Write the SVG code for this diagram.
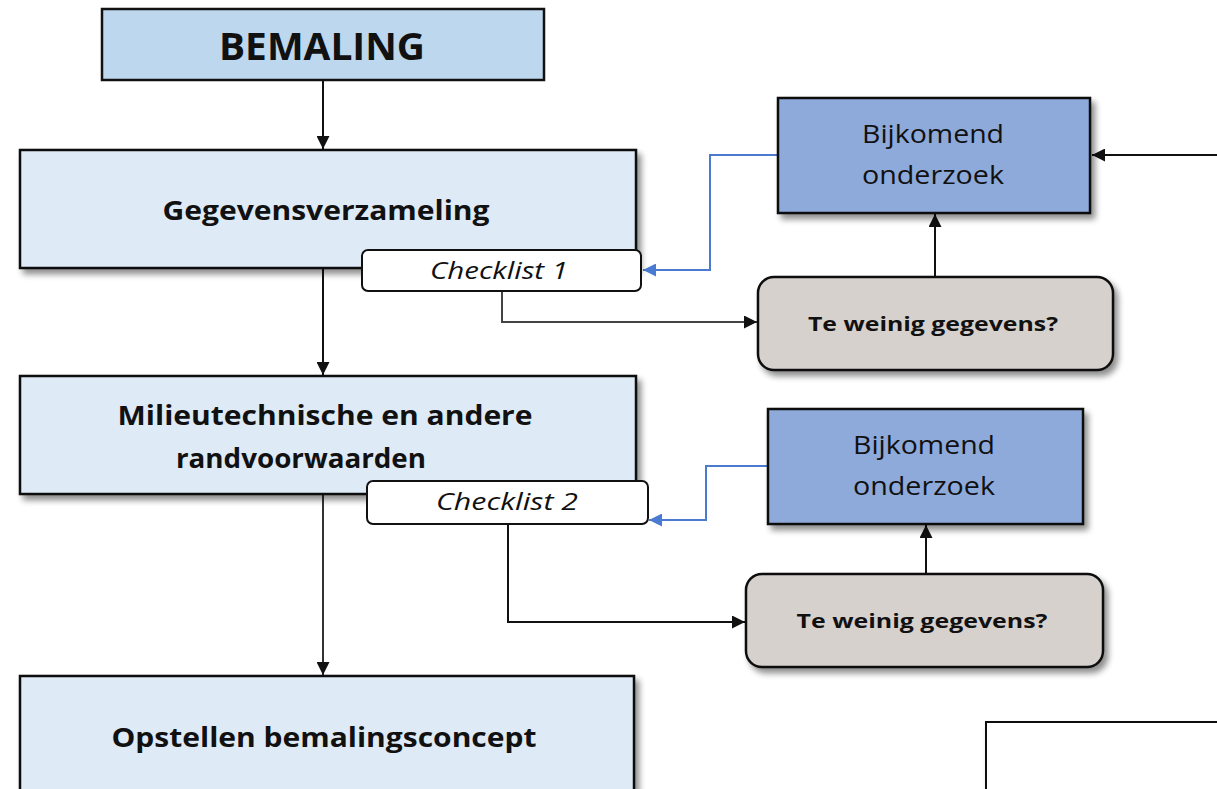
<svg xmlns="http://www.w3.org/2000/svg" width="1217" height="789" viewBox="0 0 1217 789">
<style>
  text { font-family: "Open Sans", "Noto Sans", "Liberation Sans", sans-serif; fill: #111; }
  .main { fill: #DEEAF6; stroke: #111; stroke-width: 2.5; }
  .title { fill: #BDD7EE; stroke: #111; stroke-width: 2.5; }
  .check { fill: #fff; stroke: #111; stroke-width: 2; }
  .dec { fill: #D7D1CE; stroke: #111; stroke-width: 2.5; }
  .extra { fill: #8EAADB; stroke: #111; stroke-width: 2.5; }
  .b { font-weight: bold; }
  .lnk { fill: none; stroke: #111; stroke-width: 2; }
  .blue { fill: none; stroke: #4A7BD0; stroke-width: 2; }
</style>
<defs>
  <filter id="sh" x="-10%" y="-10%" width="130%" height="140%">
    <feGaussianBlur in="SourceAlpha" stdDeviation="3"/>
    <feOffset dx="4" dy="5" result="o"/>
    <feComponentTransfer><feFuncA type="linear" slope="0.45"/></feComponentTransfer>
    <feMerge><feMergeNode/><feMergeNode in="SourceGraphic"/></feMerge>
  </filter>
  <marker id="ah" viewBox="0 0 10 10" refX="10" refY="5" markerWidth="14" markerHeight="13" markerUnits="userSpaceOnUse" orient="auto">
    <path d="M0,0 L10,5 L0,10 z" fill="#111"/>
  </marker>
  <marker id="ahb" viewBox="0 0 10 10" refX="10" refY="5" markerWidth="14" markerHeight="13" markerUnits="userSpaceOnUse" orient="auto">
    <path d="M0,0 L10,5 L0,10 z" fill="#4A7BD0"/>
  </marker>
</defs>
<g id="connectors">
  <path class="lnk" d="M323,80 V149" marker-end="url(#ah)"/>
  <path class="lnk" d="M323,268 V375" marker-end="url(#ah)"/>
  <path class="lnk" d="M323,494 V675" marker-end="url(#ah)" style="stroke:#333"/>
  <path class="lnk" d="M502,291 V322 H757" marker-end="url(#ah)" style="stroke:#444"/>
  <path class="lnk" d="M935,277 V214" marker-end="url(#ah)"/>
  <path class="lnk" d="M1217,155 H1092" marker-end="url(#ah)"/>
  <path class="blue" d="M778,155 H710 V270 H643" marker-end="url(#ahb)"/>
  <path class="lnk" d="M508,524 V622 H745" marker-end="url(#ah)"/>
  <path class="lnk" d="M926,574 V525" marker-end="url(#ah)"/>
  <path class="blue" d="M768,466 H706 V520 H649" marker-end="url(#ahb)"/>
</g>
<g id="bemaling">
  <rect class="title" x="102" y="9" width="442" height="71"/>
  <text class="b" x="322" y="60" text-anchor="middle" font-size="38" textLength="206" lengthAdjust="spacingAndGlyphs">BEMALING</text>
</g>
<g id="gegevensverzameling">
  <rect class="main" x="20" y="150" width="616" height="118" filter="url(#sh)"/>
  <text class="b" x="326" y="220" text-anchor="middle" font-size="26" textLength="327" lengthAdjust="spacingAndGlyphs">Gegevensverzameling</text>
</g>
<g id="checklist1">
  <rect class="check" x="362" y="250" width="279" height="41" rx="6"/>
  <text x="499" y="279" text-anchor="middle" font-size="23" font-style="italic" textLength="138" lengthAdjust="spacingAndGlyphs">Checklist 1</text>
</g>
<g id="teweinig1">
  <rect class="dec" x="758" y="277" width="355" height="93" rx="16" filter="url(#sh)"/>
  <text class="b" x="933" y="331" text-anchor="middle" font-size="20" textLength="250" lengthAdjust="spacingAndGlyphs">Te weinig gegevens?</text>
</g>
<g id="bijkomend1">
  <rect class="extra" x="778" y="98" width="312" height="115" filter="url(#sh)"/>
  <text x="933" y="143" text-anchor="middle" font-size="26" textLength="142" lengthAdjust="spacingAndGlyphs">Bijkomend</text>
  <text x="933" y="184" text-anchor="middle" font-size="26" textLength="142" lengthAdjust="spacingAndGlyphs">onderzoek</text>
</g>
<g id="milieutechnische">
  <rect class="main" x="20" y="376" width="616" height="118" filter="url(#sh)"/>
  <text class="b" x="325" y="425" text-anchor="middle" font-size="26" textLength="415" lengthAdjust="spacingAndGlyphs">Milieutechnische en andere</text>
  <text class="b" x="301" y="468" text-anchor="middle" font-size="26" textLength="250" lengthAdjust="spacingAndGlyphs">randvoorwaarden</text>
</g>
<g id="checklist2">
  <rect class="check" x="367" y="481" width="281" height="43" rx="6"/>
  <text x="507" y="510" text-anchor="middle" font-size="23" font-style="italic" textLength="142" lengthAdjust="spacingAndGlyphs">Checklist 2</text>
</g>
<g id="teweinig2">
  <rect class="dec" x="746" y="574" width="357" height="93" rx="16" filter="url(#sh)"/>
  <text class="b" x="922" y="628" text-anchor="middle" font-size="20" textLength="251" lengthAdjust="spacingAndGlyphs">Te weinig gegevens?</text>
</g>
<g id="bijkomend2">
  <rect class="extra" x="768" y="409" width="315" height="115" filter="url(#sh)"/>
  <text x="924" y="454" text-anchor="middle" font-size="26" textLength="142" lengthAdjust="spacingAndGlyphs">Bijkomend</text>
  <text x="924" y="495" text-anchor="middle" font-size="26" textLength="142" lengthAdjust="spacingAndGlyphs">onderzoek</text>
</g>
<g id="opstellen">
  <rect class="main" x="20" y="676" width="614" height="130" filter="url(#sh)"/>
  <text class="b" x="324" y="747" text-anchor="middle" font-size="26" textLength="425" lengthAdjust="spacingAndGlyphs">Opstellen bemalingsconcept</text>
</g>
<g id="partial-box">
  <rect x="986" y="722" width="260" height="100" fill="#fff" stroke="#111" stroke-width="2" filter="url(#sh)"/>
</g>
</svg>
